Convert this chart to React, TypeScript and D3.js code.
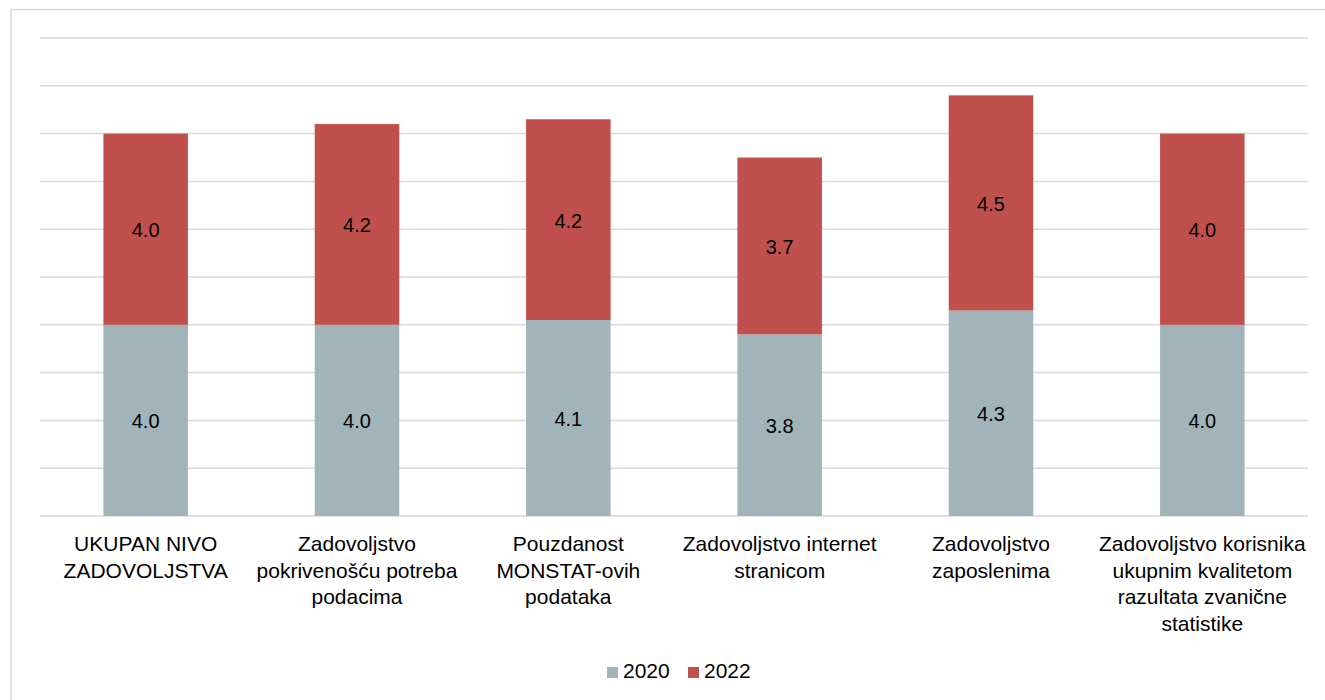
import React from "react";
import * as d3 from "d3";

const categories: string[][] = [
  ["UKUPAN NIVO", "ZADOVOLJSTVA"],
  ["Zadovoljstvo", "pokrivenošću potreba", "podacima"],
  ["Pouzdanost", "MONSTAT-ovih", "podataka"],
  ["Zadovoljstvo internet", "stranicom"],
  ["Zadovoljstvo", "zaposlenima"],
  ["Zadovoljstvo korisnika", "ukupnim kvalitetom", "razultata zvanične", "statistike"],
];
const seriesNames = ["2020", "2022"];
const values2020 = [4.0, 4.0, 4.1, 3.8, 4.3, 4.0];
const values2022 = [4.0, 4.2, 4.2, 3.7, 4.5, 4.0];
const gridTicks = [0, 1, 2, 3, 4, 5, 6, 7, 8, 9, 10];

const colors = ["#a1b4ba", "#c0504d"];

export default function App() {
  const W = 1325, H = 700;
  const left = 40, right = 1308, top = 38, bottom = 516;
  const font = "'Liberation Sans', Arial, sans-serif";

  const idx = categories.map((_, i) => i);
  const x = d3.scaleBand<number>().domain(idx).range([left, right]).paddingInner(0.6).paddingOuter(0.3);
  const y = d3.scaleLinear().domain([0, 10]).range([bottom, top]);

  const rows = idx.map((i) => ({ i, s0: values2020[i], s1: values2022[i] }));
  const stack = d3.stack<any>().keys(["s0", "s1"]);
  const stacked = stack(rows);

  return (
    <svg width={W} height={H} style={{ display: "block", position: "absolute", left: 0, top: 0 }}>
      <rect x={11} y={9.5} width={1330} height={700} fill="#fff" stroke="#d9d9d9" strokeWidth={1.5} />
      {gridTicks.map((t) => (
        <line key={t} x1={left} x2={right} y1={y(t)} y2={y(t)} stroke="#d9d9d9" strokeWidth={1.5} />
      ))}
      {stacked.map((layer, si) => (
        <g key={si}>
          {layer.map((d, i) => {
            const x0 = x(i)!;
            const y0 = y(d[1]);
            const y1 = y(d[0]);
            const v = si === 0 ? values2020[i] : values2022[i];
            return (
              <g key={i}>
                <rect x={x0} y={y0} width={x.bandwidth()} height={y1 - y0} fill={colors[si]} />
                <text
                  x={x0 + x.bandwidth() / 2}
                  y={(y0 + y1) / 2 + 8}
                  textAnchor="middle"
                  fontFamily={font}
                  fontSize={20}
                  fill="#000"
                >
                  {v.toFixed(1)}
                </text>
              </g>
            );
          })}
        </g>
      ))}
      {categories.map((lines, i) => (
        <text key={i} textAnchor="middle" fontFamily={font} fontSize={21} fill="#000">
          {lines.map((ln, j) => (
            <tspan key={j} x={x(i)! + x.bandwidth() / 2} y={551 + j * 26.5}>
              {ln}
            </tspan>
          ))}
        </text>
      ))}
      {seriesNames.map((n, k) => {
        const lx = 607 + k * 81;
        return (
          <g key={n}>
            <rect x={lx} y={667} width={11} height={11} fill={colors[k]} />
            <text x={lx + 16} y={678} fontFamily={font} fontSize={21} fill="#000">
              {n}
            </text>
          </g>
        );
      })}
    </svg>
  );
}
